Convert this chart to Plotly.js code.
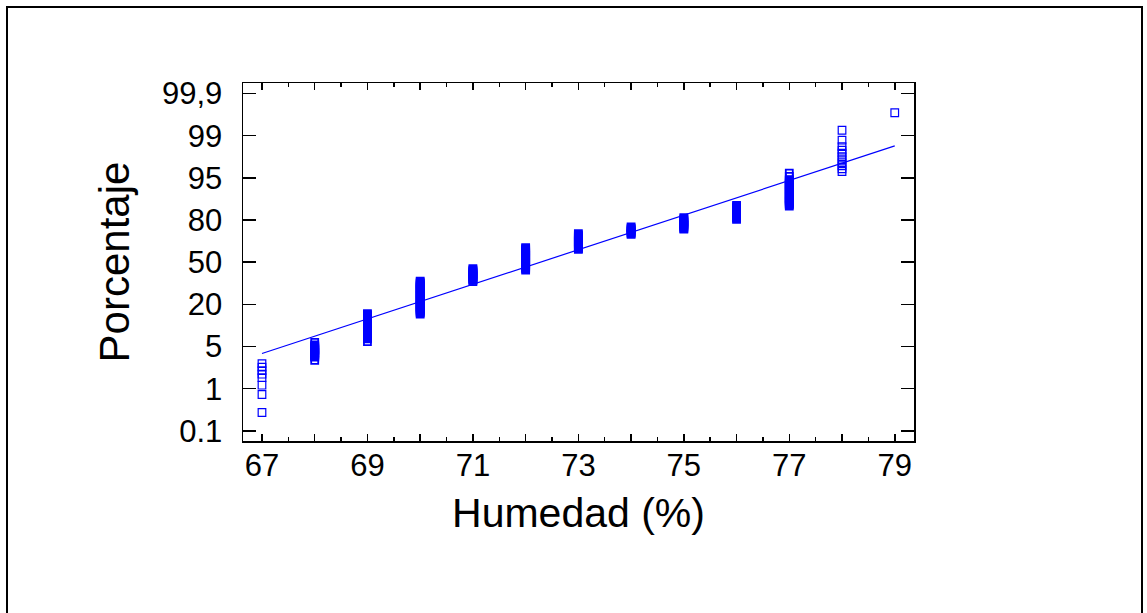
<!DOCTYPE html>
<html>
<head>
<meta charset="utf-8">
<script src="https://cdn.plot.ly/plotly-3.0.1.min.js"></script>
<style>
  html, body { margin: 0; padding: 0; background: #fff; overflow: hidden; }
  #chart { width: 1147px; height: 613px; }
  #frame { position: absolute; left: 6px; top: 6px; width: 1133px; height: 700px;
           border: 2px solid #000; pointer-events: none; }
</style>
</head>
<body>
<div id="chart"></div>
<div id="frame"></div>
<script>
// Humidity levels (x) and the probability-scale position of each plotted observation
const humedad = [67, 68, 69, 70, 71, 72, 73, 74, 75, 76, 77, 78, 79];
const posicion67 = [-2.407, -2.49, -2.573, -2.656, -2.739, -2.917, -3.137, -3.564];
const posicion68 = [-1.90, -1.96, -1.99, -2.01, -2.03, -2.05, -2.07, -2.09, -2.11, -2.13, -2.15, -2.17, -2.19, -2.21, -2.23, -2.25, -2.33];
const posicion69 = [-1.22, -1.245, -1.27, -1.295, -1.32, -1.345, -1.37, -1.395, -1.42, -1.445, -1.47, -1.495, -1.52, -1.545, -1.57, -1.595, -1.62, -1.645, -1.67, -1.695, -1.72, -1.745, -1.77, -1.795, -1.82, -1.885];
const posicion70 = [-0.45, -0.475, -0.5, -0.525, -0.55, -0.575, -0.6, -0.625, -0.65, -0.675, -0.7, -0.725, -0.75, -0.775, -0.8, -0.825, -0.85, -0.875, -0.9, -0.925, -0.95, -0.975, -1.0, -1.025, -1.05, -1.075, -1.1, -1.125, -1.15, -1.175, -1.2, -1.228];
const posicion71 = [-0.155, -0.18, -0.205, -0.23, -0.255, -0.28, -0.305, -0.33, -0.355, -0.38, -0.405, -0.43, -0.46];
const posicion72 = [0.345, 0.32, 0.295, 0.27, 0.245, 0.22, 0.195, 0.17, 0.145, 0.12, 0.095, 0.07, 0.045, 0.02, -0.005, -0.03, -0.055, -0.08, -0.105, -0.13, -0.155, -0.185];
const posicion73 = [0.675, 0.65, 0.625, 0.6, 0.575, 0.55, 0.525, 0.5, 0.475, 0.45, 0.425, 0.4, 0.375, 0.35, 0.325, 0.305];
const posicion74 = [0.835, 0.81, 0.785, 0.76, 0.735, 0.71, 0.685, 0.66];
const posicion75 = [1.055, 1.03, 1.005, 0.98, 0.955, 0.93, 0.905, 0.88, 0.855, 0.83, 0.805, 0.787];
const posicion76 = [1.345, 1.32, 1.295, 1.27, 1.245, 1.22, 1.195, 1.17, 1.145, 1.12, 1.095, 1.07, 1.045, 1.015];
const posicion77 = [2.115, 2.037, 1.96, 1.935, 1.91, 1.885, 1.86, 1.835, 1.81, 1.785, 1.76, 1.735, 1.71, 1.685, 1.66, 1.635, 1.61, 1.585, 1.56, 1.535, 1.51, 1.485, 1.46, 1.435, 1.41, 1.385, 1.36, 1.333];
const posicion78 = [3.13, 2.893, 2.739, 2.656, 2.585, 2.502, 2.431, 2.36, 2.288, 2.217, 2.151];
const posicion79 = [3.545];

// Fitted reference line
const lineaX = [67, 79];
const lineaY = [-2.165, 2.758];

// Tick labels
const yTickLabels = ['0.1', '1', '5', '20', '50', '80', '95', '99', '99,9'];
const xLabeled = [67, 69, 71, 73, 75, 77, 79];

const columnas = [posicion67, posicion68, posicion69, posicion70, posicion71, posicion72,
                  posicion73, posicion74, posicion75, posicion76, posicion77, posicion78, posicion79];
// columns drawn as separate sparse squares vs. dense (overlapping) stacks
const sparse = { x: [], y: [] }, dense = { x: [], y: [] };
columnas.forEach((col, i) => {
  const tgt = (i > 0 && i < 11) ? dense : sparse;
  col.forEach(v => { tgt.x.push(humedad[i]); tgt.y.push(v); });
});

const xTickVals = [], xTickText = [];
for (let v = humedad[0]; v <= humedad[humedad.length - 1]; v++) {
  xTickVals.push(v);
  xTickText.push(xLabeled.includes(v) ? String(v) : '');
}
const yTickVals = yTickLabels.map((_, i) => i - (yTickLabels.length - 1) / 2);

const blue = 'rgb(0,0,255)';
const fontFam = 'Arial, "Liberation Sans", sans-serif';

const traces = [
  { x: dense.x, y: dense.y, type: 'scatter', mode: 'markers',
    marker: { symbol: 'square-open', size: 7, color: blue, line: { width: 1.8, color: blue } },
    hoverinfo: 'x+y', showlegend: false },
  { x: sparse.x, y: sparse.y, type: 'scatter', mode: 'markers',
    marker: { symbol: 'square-open', size: 7.6, color: blue, line: { width: 1.2, color: blue } },
    hoverinfo: 'x+y', showlegend: false },
  { x: lineaX, y: lineaY, type: 'scatter', mode: 'lines',
    line: { color: blue, width: 1.2 }, showlegend: false }
];

const layout = {
  width: 1147, height: 613,
  margin: { l: 243, r: 233, t: 83, b: 172, pad: 0 },
  paper_bgcolor: '#fff', plot_bgcolor: '#fff',
  font: { family: fontFam, color: '#000' },
  xaxis: {
    range: [66.64, 79.365],
    tickmode: 'array', tickvals: xTickVals, ticktext: xTickText,
    ticks: 'inside', ticklen: 7, tickwidth: 1.5, tickcolor: '#000',
    minor: { tickmode: 'linear', tick0: 67, dtick: 0.5, ticks: 'inside', ticklen: 4, tickwidth: 1.5, tickcolor: '#000' },
    showline: true, linecolor: '#000', linewidth: 1.5, mirror: 'ticks',
    showgrid: false, zeroline: false,
    tickfont: { size: 31, family: fontFam, color: '#000' },
    ticklabelstandoff: -4,
    title: { text: 'Humedad (%)', font: { size: 41, family: fontFam, color: '#000' }, standoff: 16 }
  },
  yaxis: {
    range: [-4.24, 4.25],
    tickmode: 'array', tickvals: yTickVals, ticktext: yTickLabels,
    ticks: 'inside', ticklen: 13, tickwidth: 1.5, tickcolor: '#000',
    showline: true, linecolor: '#000', linewidth: 1.5, mirror: 'ticks',
    showgrid: false, zeroline: false,
    tickfont: { size: 31, family: fontFam, color: '#000' },
    ticklabelstandoff: 13,
    title: { text: 'Porcentaje', font: { size: 42, family: fontFam, color: '#000' }, standoff: 19 }
  }
};

Plotly.newPlot('chart', traces, layout, { displayModeBar: false, staticPlot: true });
</script>
</body>
</html>
